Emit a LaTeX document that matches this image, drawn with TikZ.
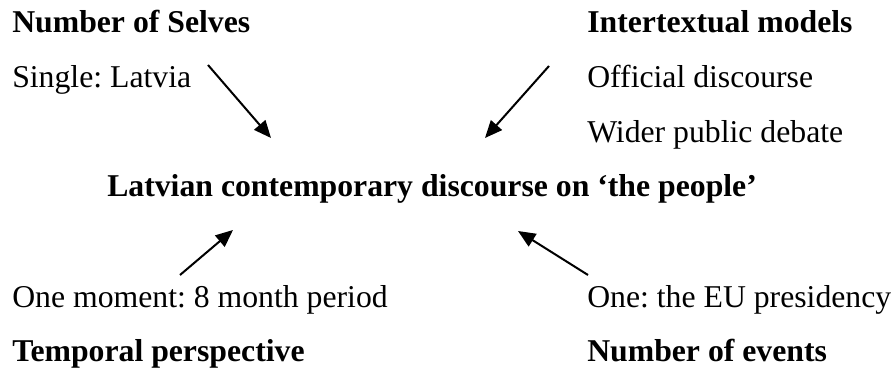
\documentclass[tikz,border=0pt]{standalone}
\usepackage{fontspec}
\setmainfont{Liberation Serif}
\usetikzlibrary{arrows.meta}
\frenchspacing
\begin{document}
\begin{tikzpicture}[x=0.75pt,y=-0.75pt,
  lbl/.style={anchor=base west,inner sep=0pt,font=\fontsize{23.8}{28}\selectfont},
  hdr/.style={lbl,font=\fontsize{23.8}{28}\selectfont\bfseries},
  arr/.style={line width=1.5pt,-{Triangle[length=13pt,width=11pt]}}]
\useasboundingbox (0,0) rectangle (895,373);
\node[hdr] (selves) at (12,33) {Number of Selves};
\node[lbl] (single) at (12,88) {Single: Latvia};
\node[hdr] (inter) at (587,33) {Intertextual models};
\node[lbl] (official) at (587,88) {Official discourse};
\node[lbl] (wider) at (587,143) {Wider public debate};
\node[hdr] (title) at (107,197) {Latvian contemporary discourse on ‘the people’};
\node[lbl] (moment) at (12,308) {One moment: 8 month period};
\node[hdr] (temporal) at (12,362) {Temporal perspective};
\node[lbl] (eu) at (587,308) {One: the EU presidency};
\node[hdr] (events) at (587,362) {Number of events};
\coordinate (a1s) at (208,65);
\coordinate (a1e) at (271,138);
\coordinate (a2s) at (549,66);
\coordinate (a2e) at (485,138);
\coordinate (a3s) at (180,275);
\coordinate (a3e) at (233,230);
\coordinate (a4s) at (588,275);
\coordinate (a4e) at (518,231);
\draw[arr] (a1s) -- (a1e);
\draw[arr] (a2s) -- (a2e);
\draw[arr] (a3s) -- (a3e);
\draw[arr] (a4s) -- (a4e);
\end{tikzpicture}
\end{document}
